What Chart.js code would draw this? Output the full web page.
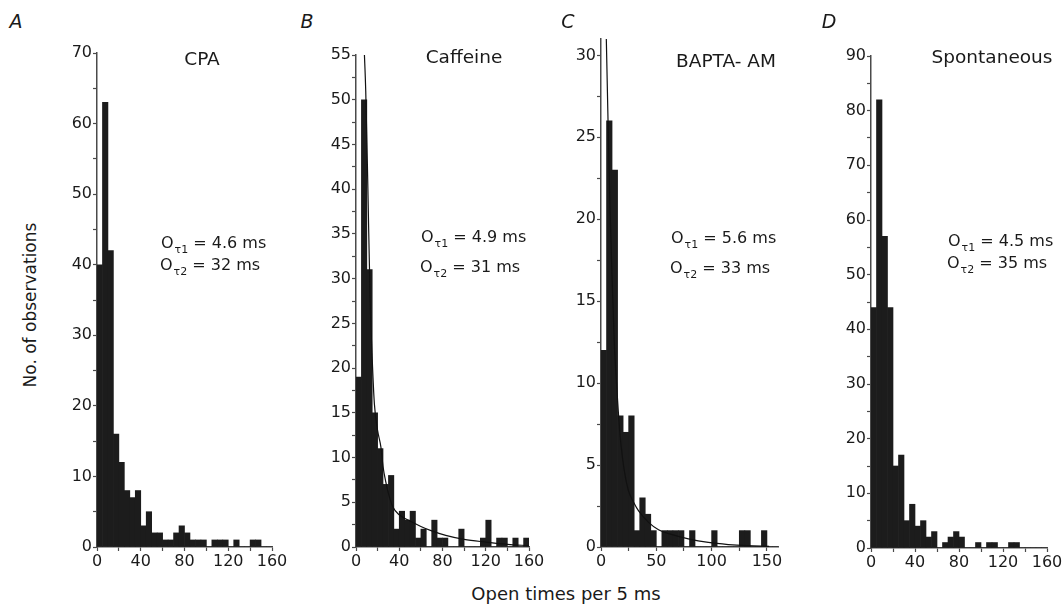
<!DOCTYPE html>
<html>
<head>
<meta charset="utf-8">
<script src="https://cdn.jsdelivr.net/npm/chart.js@4.4.1/dist/chart.umd.min.js"></script>
<style>
  body { margin:0; width:1062px; height:609px; background:#fff; position:relative; overflow:hidden;
         font-family:"DejaVu Sans", "Liberation Sans", Arial, sans-serif; color:#1a1a1a; }
  canvas { position:absolute; }
  .txt { position:absolute; white-space:nowrap; transform:translate(-50%,-50%); }
  .letter { font-style:italic; font-size:19px; }
  .title { font-size:18.5px; }
  .note { position:absolute; white-space:nowrap; font-size:16px; transform:translateY(-50%); }
  .note sub { font-size:11px; vertical-align:-5px; margin-left:1px; }
  .axt { font-size:17px; }
</style>
</head>
<body>
<canvas id="cA"></canvas>
<canvas id="cB"></canvas>
<canvas id="cC"></canvas>
<canvas id="cD"></canvas>

<div class="txt letter" style="left:16px;top:21px">A</div>
<div class="txt letter" style="left:307px;top:21px">B</div>
<div class="txt letter" style="left:568px;top:21px">C</div>
<div class="txt letter" style="left:829px;top:21px">D</div>

<div class="txt title" style="left:202px;top:58px">CPA</div>
<div class="txt title" style="left:464px;top:56px">Caffeine</div>
<div class="txt title" style="left:726px;top:60px">BAPTA- AM</div>
<div class="txt title" style="left:992px;top:56px">Spontaneous</div>

<div class="note" style="left:161px;top:244px">O<sub>τ1</sub> = 4.6 ms</div>
<div class="note" style="left:160px;top:266px">O<sub>τ2</sub> = 32 ms</div>
<div class="note" style="left:421px;top:238px">O<sub>τ1</sub> = 4.9 ms</div>
<div class="note" style="left:420px;top:268px">O<sub>τ2</sub> = 31 ms</div>
<div class="note" style="left:671px;top:239px">O<sub>τ1</sub> = 5.6 ms</div>
<div class="note" style="left:670px;top:269px">O<sub>τ2</sub> = 33 ms</div>
<div class="note" style="left:948px;top:242px">O<sub>τ1</sub> = 4.5 ms</div>
<div class="note" style="left:947px;top:264px">O<sub>τ2</sub> = 35 ms</div>

<div class="txt axt" style="left:30px;top:305px;transform:translate(-50%,-50%) rotate(-90deg)">No. of observations</div>
<div class="txt axt" style="left:566px;top:593px;font-size:18px">Open times per 5 ms</div>

<script>
// bin starts (ms), 5 ms wide bins
const binStart = [0, 5, 10, 15, 20, 25, 30, 35, 40, 45, 50, 55, 60, 65, 70, 75,
                  80, 85, 90, 95, 100, 105, 110, 115, 120, 125, 130, 135, 140, 145, 150, 155];

// counts per bin
const cpaCounts      = [40, 63, 42, 16, 12, 8, 7, 8, 3, 5, 2, 2, 1, 1, 2, 3,
                        2, 1, 1, 1, 0, 1, 1, 1, 0, 1, 0, 0, 1, 1, 0, 0];
const caffeineCounts = [19, 50, 31, 15, 11, 7, 8, 2, 4, 3, 4, 1, 2, 0, 3, 1,
                        1, 0, 0, 2, 0, 0, 0, 1, 3, 0, 1, 1, 0, 1, 0, 1];
const baptaCounts    = [12, 26, 23, 8, 7, 8, 1, 3, 2, 1, 0, 1, 1, 1, 1, 0,
                        1, 0, 0, 0, 1, 0, 0, 0, 0, 1, 1, 0, 0, 1, 0, 0];
const spontCounts    = [44, 82, 57, 44, 15, 17, 5, 8, 4, 5, 2, 3, 0, 1, 2, 3,
                        2, 0, 0, 1, 0, 1, 1, 0, 0, 1, 1, 0, 0, 0, 0, 0];

// fitted curves
const caffeineFitX = [6, 7.5, 9, 11, 13, 15, 17, 20, 23, 25, 27.5, 30, 34, 40, 50, 60, 70, 83, 100, 120, 140, 160];
const caffeineFitY = [62, 56, 51, 40, 28, 21, 16, 13, 11.2, 9, 7.3, 6, 4.5, 3.6, 2.9, 2.3, 1.8, 1.3, 0.85, 0.55, 0.3, 0.15];
const baptaFitX = [4.5, 6.2, 8, 10, 12, 14.5, 17, 19.5, 22, 25, 29.7, 34, 43, 52, 62, 79, 97, 115, 132, 152];
const baptaFitY = [32, 26.5, 21, 16.5, 12.5, 9.5, 7, 5.4, 4.3, 3.4, 2.7, 2.2, 1.5, 1.05, 0.8, 0.5, 0.28, 0.15, 0.08, 0.04];

// labelled ticks
const cpaYLabels = [0, 10, 20, 30, 40, 50, 60, 70];
const caffeineYLabels = [0, 5, 10, 15, 20, 25, 30, 35, 40, 45, 50, 55];
const baptaYLabels = [0, 5, 10, 15, 20, 25, 30];
const spontYLabels = [0, 10, 20, 30, 40, 50, 60, 70, 80, 90];
const xLabels40 = [0, 40, 80, 120, 160];
const xLabels50 = [0, 50, 100, 150];

const YW = 48, XH = 35, PADT = 15, PADR = 24;
const ink = '#1c1c1c', axisCol = '#4a4a4a';

function makePanel(id, box, counts, fitX, fitY, yMax, yStep, yLabels, xStep, xLabels) {
  const cv = document.getElementById(id);
  const w = (box.right - box.left) + YW + PADR;
  const h = (box.bottom - box.top) + PADT + XH;
  cv.width = w; cv.height = h;
  cv.style.left = (box.left - YW) + 'px';
  cv.style.top = (box.top - PADT) + 'px';

  const datasets = [{
    type: 'bar',
    data: binStart.map((s, i) => ({ x: s + 2.5, y: counts[i] })),
    backgroundColor: ink,
    borderWidth: 0,
    barPercentage: 1,
    categoryPercentage: 1,
    order: 2
  }];
  if (fitX) {
    datasets.push({
      type: 'line',
      data: fitX.map((x, i) => ({ x: x, y: fitY[i] })),
      borderColor: '#111',
      borderWidth: 1.2,
      pointRadius: 0,
      tension: 0.35,
      cubicInterpolationMode: 'monotone',
      order: 1
    });
  }

  const tickFont = { family: '"DejaVu Sans", "Liberation Sans", Arial, sans-serif', size: 16 };
  new Chart(cv, {
    type: 'bar',
    data: { datasets },
    options: {
      responsive: false,
      animation: false,
      layout: { padding: { left: 0, top: PADT, right: PADR, bottom: 0 } },
      plugins: { legend: { display: false }, tooltip: { enabled: false } },
      scales: {
        x: {
          type: 'linear', min: 0, max: 160, offset: false,
          afterFit: s => { s.height = XH; },
          grid: { drawOnChartArea: false, offset: false, tickLength: 4, color: axisCol, tickWidth: 1.2 },
          border: { display: true, color: axisCol, width: 1.5 },
          ticks: {
            stepSize: xStep, autoSkip: false, maxRotation: 0, includeBounds: false,
            color: '#1a1a1a', font: tickFont, padding: 1,
            callback: v => xLabels.includes(v) ? String(v) : ''
          }
        },
        y: {
          min: 0, max: yMax,
          afterFit: s => { s.width = YW; },
          grid: { drawOnChartArea: false, tickLength: 4, color: axisCol, tickWidth: 1.2 },
          border: { display: true, color: axisCol, width: 1.5 },
          ticks: {
            stepSize: yStep, autoSkip: false, includeBounds: false,
            color: '#1a1a1a', font: tickFont, padding: 1,
            callback: v => yLabels.includes(v) ? String(v) : ''
          }
        }
      }
    }
  });
}

makePanel('cA', { left: 97, right: 272, top: 53, bottom: 547 }, cpaCounts, null, null, 70, 5, cpaYLabels, 20, xLabels40);
makePanel('cB', { left: 356, right: 529, top: 55, bottom: 547 }, caffeineCounts, caffeineFitX, caffeineFitY, 55, 2.5, caffeineYLabels, 20, xLabels40);
makePanel('cC', { left: 601, right: 778, top: 39, bottom: 547 }, baptaCounts, baptaFitX, baptaFitY, 31, 2.5, baptaYLabels, 25, xLabels50);
makePanel('cD', { left: 871, right: 1047, top: 56, bottom: 548 }, spontCounts, null, null, 90, 5, spontYLabels, 20, xLabels40);
</script>
</body>
</html>
